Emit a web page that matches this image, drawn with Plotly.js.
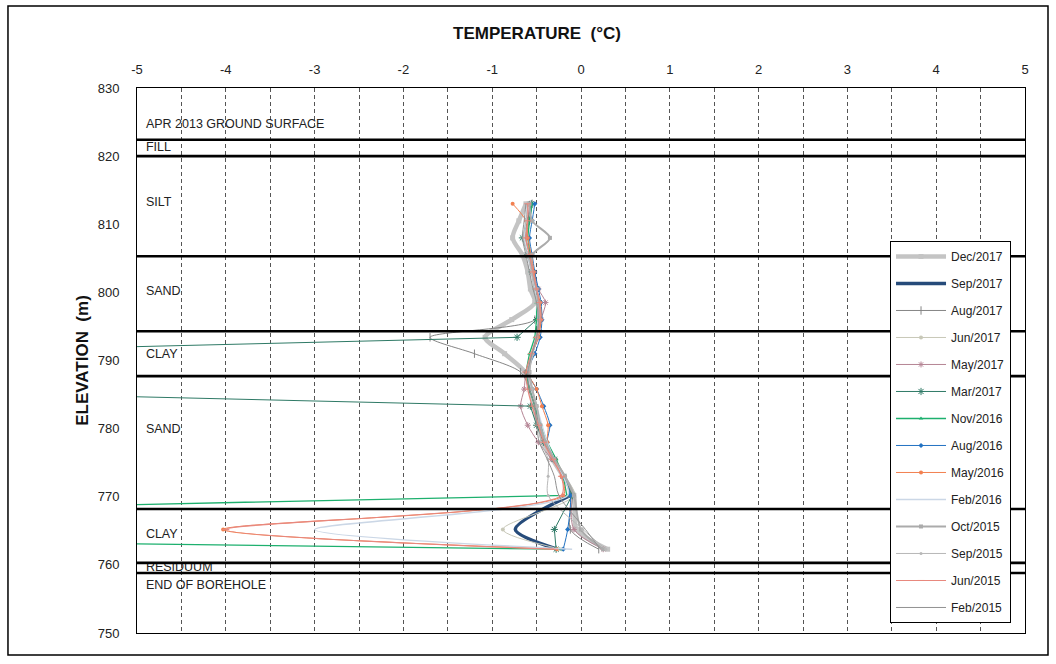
<!DOCTYPE html>
<html>
<head>
<meta charset="utf-8">
<script src="https://cdn.plot.ly/plotly-3.0.1.min.js"></script>
<style>html,body{margin:0;padding:0;background:#fff;}#chart{width:1056px;height:664px;}</style>
</head>
<body>
<div id="chart"></div>
<script>
// ---- data ----
const elevations = [813.0, 810.5, 808.0, 805.5, 803.0, 800.5, 798.5, 796.0, 793.4, 791.0, 788.3, 785.8, 783.3, 780.5, 778.0, 775.5, 773.0, 770.2, 765.2, 762.3];

const seriesNames = ["Dec/2017", "Sep/2017", "Aug/2017", "Jun/2017", "May/2017", "Mar/2017", "Nov/2016", "Aug/2016", "May/2016", "Feb/2016", "Oct/2015", "Sep/2015", "Jun/2015", "Feb/2015"];

const dec2017 = [-0.62, -0.70, -0.77, -0.66, -0.60, -0.57, -0.52, -0.78, -1.08, -0.86, -0.63, -0.57, -0.53, -0.48, -0.42, -0.32, -0.20, -0.08, -0.05, 0.30];
const sep2017 = [null, null, null, null, null, null, null, null, null, null, null, null, null, null, null, null, null, -0.12, -0.74, -0.27];
const aug2017 = [-0.55, -0.58, -0.62, -0.58, -0.55, -0.52, -0.50, -0.52, -1.70, -1.20, -0.68, -0.58, -0.52, -0.47, -0.40, -0.30, -0.20, -0.10, -0.12, 0.20];
const jun2017 = [-0.57, -0.60, -0.63, -0.58, -0.55, -0.50, -0.47, -0.45, -0.50, -0.55, -0.60, -0.55, -0.50, -0.45, -0.38, -0.28, -0.18, -0.08, -0.88, -0.22];
const may2017 = [-0.58, -0.60, -0.62, -0.57, -0.53, -0.48, -0.40, -0.45, -0.48, -0.55, -0.62, -0.64, -0.68, -0.60, -0.48, -0.33, -0.20, -0.12, -0.08, 0.25];
const mar2017 = [-0.56, -0.60, -0.66, -0.60, -0.55, -0.50, -0.47, -0.50, -0.72, null, -16.7, null, -0.57, -0.50, -0.42, -0.30, -0.20, -0.10, -0.30, -0.28];
const nov2016 = [-0.55, -0.58, -0.60, -0.57, -0.55, -0.52, -0.50, -0.50, -0.52, -0.58, -0.62, -0.58, -0.52, -0.45, -0.38, -0.28, -0.20, -0.16, -18.2, -0.24];
const aug2016 = [-0.52, -0.55, -0.58, -0.55, -0.52, -0.48, -0.45, -0.44, -0.46, -0.52, -0.60, -0.50, -0.42, -0.35, -0.38, -0.30, -0.20, -0.12, -0.15, -0.20];
const may2016 = [-0.77, -0.62, -0.60, -0.56, -0.53, -0.50, -0.46, -0.45, -0.48, -0.55, -0.60, -0.50, -0.44, -0.37, -0.38, -0.30, -0.22, -0.20, -4.03, -0.27];
const feb2016 = [-0.60, -0.62, -0.64, -0.60, -0.56, -0.52, -0.50, -0.48, -0.50, -0.55, -0.60, -0.56, -0.50, -0.44, -0.38, -0.30, -0.20, -0.15, -3.00, -0.10];
const oct2015 = [-0.58, -0.55, -0.35, -0.55, -0.55, -0.50, -0.48, -0.47, -0.50, -0.55, -0.58, -0.55, -0.50, -0.46, -0.40, -0.30, -0.18, -0.08, 0.00, 0.25];
const sep2015 = [-0.60, -0.62, -0.65, -0.60, -0.56, -0.53, -0.50, -0.48, -0.50, -0.54, -0.58, -0.55, -0.50, -0.47, -0.45, -0.37, -0.37, -0.37, 0.02, 0.28];
const jun2015 = [-0.60, -0.60, -0.62, -0.58, -0.54, -0.50, -0.47, -0.46, -0.50, -0.56, -0.62, -0.60, -0.55, -0.48, -0.42, -0.32, -0.22, -0.22, -4.00, -0.30];
const feb2015 = [-0.62, -0.64, -0.66, -0.62, -0.58, -0.54, -0.50, -0.48, -0.50, -0.55, -0.60, -0.58, -0.52, -0.50, -0.47, -0.38, -0.30, -0.25, 0.05, 0.22];

const seriesValues = [dec2017, sep2017, aug2017, jun2017, may2017, mar2017, nov2016, aug2016, may2016, feb2016, oct2015, sep2015, jun2015, feb2015];

const layerBoundaries = [822.4, 820.0, 805.3, 794.3, 787.7, 768.2, 760.3, 758.8];
const layerLabels = ["APR 2013 GROUND SURFACE", "FILL", "SILT", "SAND", "CLAY", "SAND", "CLAY", "RESIDUUM", "END OF BOREHOLE"];
const layerLabelElev = [824.6, 821.2, 813.1, 800.1, 790.8, 779.8, 764.4, 759.5, 756.9];

const xTicks = [-5, -4, -3, -2, -1, 0, 1, 2, 3, 4, 5];
const yTicks = [750, 760, 770, 780, 790, 800, 810, 820, 830];

// ---- styles ----
const styles = [
  {color: "#c4c4c4", width: 4.5, symbol: "square", size: 5, spline: true},
  {color: "#264b7a", width: 3.5, symbol: null, spline: true},
  {color: "#858585", width: 1, symbol: "line-ns", size: 6, open: true, spline: true},
  {color: "#c8c8b8", width: 1, symbol: "circle", size: 4, spline: true},
  {color: "#b58595", width: 1, symbol: "asterisk", size: 5, open: true, spline: true},
  {color: "#2f7a66", width: 1, symbol: "asterisk", size: 6, open: true, spline: false},
  {color: "#1db06e", width: 1.3, symbol: "triangle-up", size: 4, spline: false},
  {color: "#2272c2", width: 1, symbol: "diamond", size: 4, spline: true},
  {color: "#f28050", width: 1, symbol: "circle", size: 4, spline: true},
  {color: "#cbd7e6", width: 1.5, symbol: null, spline: true},
  {color: "#ababab", width: 2, symbol: "square", size: 4, spline: true},
  {color: "#b8b8b8", width: 1, symbol: "circle", size: 3, spline: true},
  {color: "#e8887e", width: 1.2, symbol: "line-ew", size: 5, open: true, spline: true},
  {color: "#919191", width: 1, symbol: null, spline: true}
];

const traces = seriesNames.map((name, i) => {
  const s = styles[i];
  const t = {
    type: "scatter",
    x: seriesValues[i],
    y: elevations,
    name: name,
    legendgroup: "g" + i,
    connectgaps: true,
    mode: s.symbol ? "lines+markers" : "lines",
    line: {color: s.color, width: s.width, shape: s.spline ? "spline" : "linear", smoothing: 0.8},
    hoverinfo: "skip"
  };
  if (s.symbol) {
    t.marker = {symbol: s.symbol, size: s.size, color: s.color,
      line: {color: s.color, width: s.open ? 1 : 0}};
  }
  return t;
});

traces.push({
  type: "scatter",
  mode: "text",
  x: layerLabelElev.map(() => -4.9),
  y: layerLabelElev,
  text: layerLabels,
  textposition: "middle right",
  textfont: {family: "Liberation Sans, Arial, sans-serif", size: 12.5, color: "#222"},
  showlegend: false,
  cliponaxis: false,
  hoverinfo: "skip"
});

const shapes = layerBoundaries.map(e => ({
  type: "line", xref: "paper", x0: 0, x1: 1, yref: "y", y0: e, y1: e,
  line: {color: "#000", width: 2.6}, layer: "above"
}));
shapes.push({
  type: "rect", xref: "paper", yref: "paper",
  x0: -0.1453, x1: 1.0259, y0: -0.0404, y1: 1.1505,
  line: {color: "#000", width: 1.5}, fillcolor: "rgba(0,0,0,0)", layer: "below"
});

const font = "Liberation Sans, Arial, sans-serif";

const layout = {
  width: 1056, height: 664,
  margin: {l: 137, r: 31, t: 88, b: 31},
  paper_bgcolor: "#fff", plot_bgcolor: "#fff",
  font: {family: font, size: 13, color: "#222"},
  title: {
    text: "<b>TEMPERATURE  (°C)</b>",
    font: {family: font, size: 17, color: "#111"},
    xref: "paper", x: 0.4505, xanchor: "center",
    yref: "container", y: 0.95, yanchor: "middle"
  },
  xaxis: {
    side: "top", range: [-5, 5], tickvals: xTicks, ticktext: xTicks.map(String),
    showgrid: true, gridcolor: "#555", gridwidth: 1, griddash: "4px,3px",
    minor: {dtick: 0.5, showgrid: true, gridcolor: "#555", gridwidth: 1, griddash: "4px,3px"},
    zeroline: false, showline: true, linecolor: "#000", linewidth: 1, mirror: true,
    ticks: "", ticklabelstandoff: 8, tickfont: {family: font, size: 13, color: "#222"},
    fixedrange: true
  },
  yaxis: {
    range: [750, 830], tickvals: yTicks, ticktext: yTicks.map(String),
    showgrid: false, zeroline: false, showline: true, linecolor: "#000", linewidth: 1, mirror: true,
    ticks: "", ticklabelstandoff: 14, tickfont: {family: font, size: 13, color: "#222"},
    title: {text: "<b>ELEVATION  (m)</b>", font: {family: font, size: 17, color: "#111"}, standoff: 4},
    fixedrange: true
  },
  legend: {
    x: 0.848, y: 0.7193, xanchor: "left", yanchor: "top",
    bgcolor: "#fff", bordercolor: "#000", borderwidth: 1,
    font: {family: font, size: 12, color: "#222"},
    tracegroupgap: 8, itemwidth: 50, traceorder: "grouped"
  },
  shapes: shapes,
  showlegend: true
};

Plotly.newPlot("chart", traces, layout, {displayModeBar: false, staticPlot: true});
</script>
</body>
</html>
